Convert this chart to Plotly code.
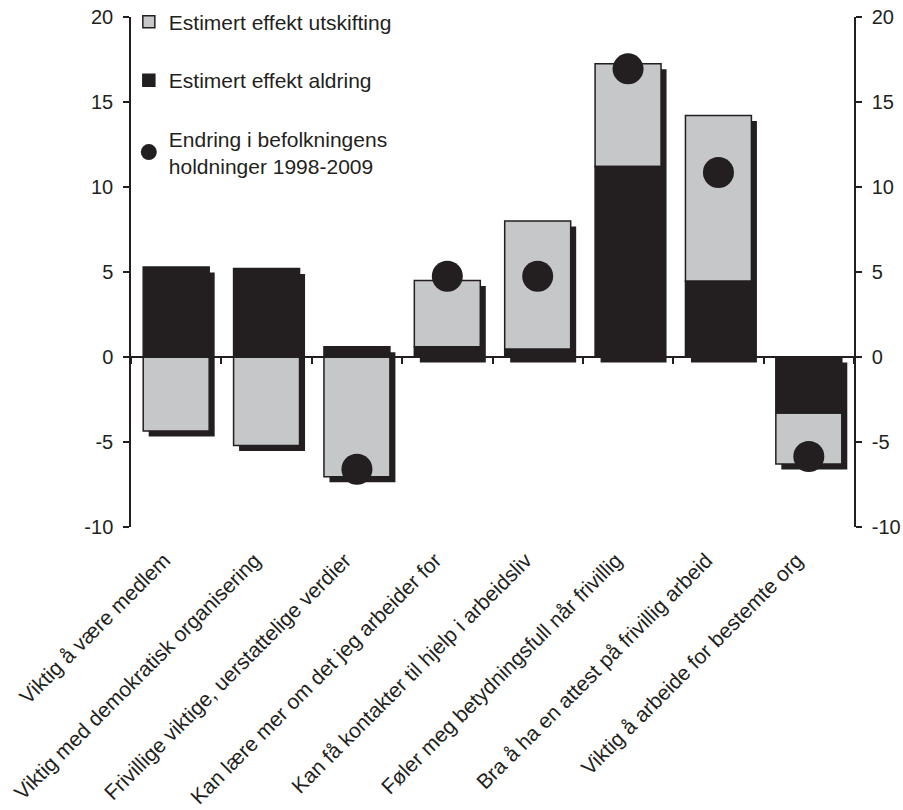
import plotly.graph_objects as go

categories = [
    "Viktig å være medlem",
    "Viktig med demokratisk organisering",
    "Frivillige viktige, uerstattelige verdier",
    "Kan lære mer om det jeg arbeider for",
    "Kan få kontakter til hjelp i arbeidsliv",
    "Føler meg betydningsfull når frivillig",
    "Bra å ha en attest på frivillig arbeid",
    "Viktig å arbeide for bestemte org",
]
aldring = [5.3, 5.2, 0.6, 0.6, 0.45, 11.2, 4.45, -3.3]
utskifting = [-4.35, -5.2, -7.05, 3.9, 7.55, 6.05, 9.75, -3.0]
endring = [None, None, -6.6, 4.75, 4.75, 16.95, 10.85, -5.85]

y_ticks = [-10, -5, 0, 5, 10, 15, 20]
y_ticktext = ["-10", "-5", "0", "5", "10", "15", "20"]

INK = "#231f20"
GRAY = "#c6c7c9"
FONT = "Liberation Sans, Arial, sans-serif"
FS = 21

# layout geometry
W, H = 903, 810
ml, mr, mt, mb = 131, 49, 17, 283
plot_w = W - ml - mr
plot_h = H - mt - mb
yr = [-10, 20]
px_per_unit = plot_h / (yr[1] - yr[0])
px_per_cat = plot_w / len(categories)

bw = 0.73
shadow_dx = 5.5 / px_per_cat
shadow_dy = 5.5 / px_per_unit

# stacked bases (relative stacking)
gray_base = [a if (a >= 0) == (u >= 0) else 0 for a, u in zip(aldring, utskifting)]
lo, hi = [], []
for a, u, gb in zip(aldring, utskifting, gray_base):
    ends = [0, a, gb, gb + u]
    lo.append(min(ends))
    hi.append(max(ends))

fig = go.Figure()

# shadows
fig.add_trace(go.Bar(
    x=categories, y=[h - l for h, l in zip(hi, lo)],
    base=[l - shadow_dy for l in lo],
    width=bw, offset=-bw / 2 + shadow_dx,
    marker=dict(color=INK, line=dict(width=0)),
    showlegend=False, hoverinfo="skip", legendgroup="z",
))
# utskifting
fig.add_trace(go.Bar(
    x=categories, y=utskifting, base=gray_base,
    width=bw, offset=-bw / 2,
    name="Estimert effekt utskifting",
    marker=dict(color=GRAY, line=dict(color=INK, width=1.5)),
    legendgroup="a",
))
# aldring
fig.add_trace(go.Bar(
    x=categories, y=aldring, base=[0] * len(aldring),
    width=bw, offset=-bw / 2,
    name="Estimert effekt aldring",
    marker=dict(color=INK, line=dict(color=INK, width=1.5)),
    legendgroup="b",
))
# endring
fig.add_trace(go.Scatter(
    x=categories, y=endring, mode="markers",
    name="Endring i befolkningens<br>holdninger 1998-2009",
    marker=dict(color=INK, size=31, line=dict(width=0)),
    legendgroup="c",
))
# invisible helpers to activate zero-line axis and right axis
fig.add_trace(go.Scatter(x=categories, y=[0] * len(categories), xaxis="x2", yaxis="y",
                         mode="markers", marker=dict(opacity=0), showlegend=False,
                         hoverinfo="skip", legendgroup="z"))
fig.add_trace(go.Scatter(x=categories, y=[0] * len(categories), xaxis="x", yaxis="y2",
                         mode="markers", marker=dict(opacity=0), showlegend=False,
                         hoverinfo="skip", legendgroup="z"))

axis_common = dict(range=yr, tickmode="array", tickvals=y_ticks, ticktext=y_ticktext,
                   ticks="outside", ticklen=6, tickwidth=1.5, tickcolor=INK,
                   showline=True, linecolor=INK, linewidth=1.5,
                   showgrid=False, zeroline=False, automargin=False,
                   ticklabelstandoff=6,
                   tickfont=dict(family=FONT, size=20, color=INK))

fig.update_layout(
    width=W, height=H,
    margin=dict(l=ml, r=mr, t=mt, b=mb, autoexpand=False),
    paper_bgcolor="white", plot_bgcolor="white",
    barmode="overlay",
    font=dict(family=FONT, size=FS, color=INK),
    showlegend=True,
    legend=dict(x=-0.003, y=1.03, xanchor="left", yanchor="top",
                bgcolor="rgba(0,0,0,0)", font=dict(family=FONT, size=FS, color=INK),
                tracegroupgap=28, traceorder="grouped", itemsizing="trace"),
    xaxis=dict(type="category", range=[-0.5, len(categories) - 0.5],
               showline=False, ticks="", showgrid=False, zeroline=False, automargin=False,
               tickangle=-45, ticklabelstandoff=16, ticklabelshift=-12,
               tickfont=dict(family=FONT, size=FS, color=INK)),
    xaxis2=dict(type="category", overlaying="x", matches="x", anchor="free", position=1 / 3,
                range=[-0.5, len(categories) - 0.5],
                showline=True, linecolor=INK, linewidth=1.5,
                ticks="outside", tickson="boundaries", ticklen=6, tickwidth=1.5, tickcolor=INK,
                showticklabels=False, showgrid=False, zeroline=False, automargin=False),
    yaxis=dict(side="left", **axis_common),
    yaxis2=dict(side="right", overlaying="y", anchor="x", **axis_common),
)

fig.write_html("out.html", config={"displayModeBar": False},
               post_script="document.body.style.margin='0px';document.body.style.padding='0px';")
